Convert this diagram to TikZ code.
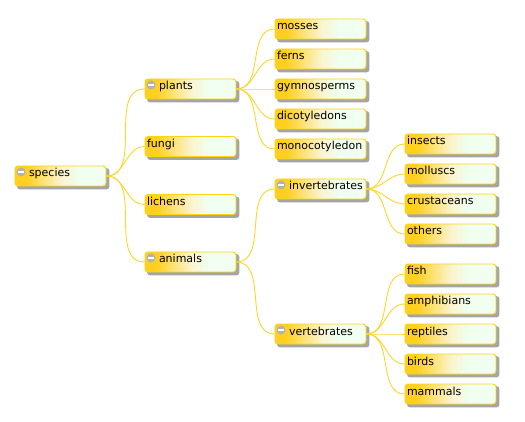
\documentclass[tikz,border=0pt]{standalone}
\usepackage{fontspec}
\setmainfont{DejaVu Sans}
\usetikzlibrary{backgrounds}
\definecolor{boxgold}{RGB}{255,208,30}
\definecolor{boxcream}{RGB}{250,244,205}
\definecolor{boxdew}{RGB}{240,255,240}
\definecolor{edgegold}{RGB}{255,214,40}
\definecolor{bordergold}{RGB}{255,212,20}
\definecolor{shadowgray}{RGB}{165,165,165}
\definecolor{icongray}{RGB}{178,178,178}
\pgfdeclarehorizontalshading{boxshade}{100bp}{color(0bp)=(boxgold); color(25bp)=(boxgold); color(31bp)=(boxgold); color(50bp)=(boxcream); color(60bp)=(boxdew); color(75bp)=(boxdew); color(100bp)=(boxdew)}
\tikzset{
  mapbox/.style={draw=bordergold, line width=0.9pt, rounded corners=3pt,
    shading=boxshade, minimum width=91pt, minimum height=20pt,
    text width=87pt, align=left, inner xsep=2pt, inner ysep=0pt,
    text height=7pt, text depth=5pt, font=\fontsize{11}{13}\selectfont},
  boxshadow/.style={fill=shadowgray, rounded corners=3pt},
  link/.style={draw=edgegold, line width=0.9pt, out=0, in=180},
}
\newcommand{\minusicon}[1]{%
  \fill[icongray] ([xshift=6.5pt,yshift=4pt]#1.west) circle (4.5pt);
  \draw[white, line width=1.4pt] ([xshift=3.8pt,yshift=4pt]#1.west) -- ([xshift=9.2pt,yshift=4pt]#1.west);}
\begin{document}
\begin{tikzpicture}[x=1pt,y=-1pt]
\useasboundingbox (0,0) rectangle (525,422);
% level 0
\node[mapbox] (species) at (60.5,176) {\hspace*{12pt}species};
% level 1
\node[mapbox] (plants) at (190.5,89) {\hspace*{12pt}plants};
\node[mapbox] (fungi) at (190.5,146.5) {fungi};
\node[mapbox] (lichens) at (190.5,204.5) {lichens};
\node[mapbox] (animals) at (190.5,262) {\hspace*{12pt}animals};
% level 2
\node[mapbox] (mosses) at (320.5,29) {mosses};
\node[mapbox] (ferns) at (320.5,59) {ferns};
\node[mapbox] (gymno) at (320.5,89) {gymnosperms};
\node[mapbox] (dicot) at (320.5,119) {dicotyledons};
\node[mapbox] (monocot) at (320.5,149) {monocotyledon};
\node[mapbox] (invert) at (320.5,189) {\hspace*{12pt}invertebrates};
\node[mapbox] (vert) at (320.5,334) {\hspace*{12pt}vertebrates};
% level 3
\node[mapbox] (insects) at (450.5,144) {insects};
\node[mapbox] (molluscs) at (450.5,174) {molluscs};
\node[mapbox] (crust) at (450.5,204) {crustaceans};
\node[mapbox] (others) at (450.5,234) {others};
\node[mapbox] (fish) at (450.5,274) {fish};
\node[mapbox] (amph) at (450.5,304) {amphibians};
\node[mapbox] (rept) at (450.5,334) {reptiles};
\node[mapbox] (birds) at (450.5,364) {birds};
\node[mapbox] (mammals) at (450.5,394) {mammals};
% shadows
\begin{pgfonlayer}{background}
\foreach \n in {species,plants,fungi,lichens,animals,mosses,ferns,gymno,dicot,monocot,invert,vert,insects,molluscs,crust,others,fish,amph,rept,birds,mammals}
  \fill[boxshadow] ([shift={(2.5,2.5)}]\n.north west) rectangle ([shift={(3,3)}]\n.south east);
\end{pgfonlayer}
% icons
\minusicon{species}
\minusicon{plants}
\minusicon{animals}
\minusicon{invert}
\minusicon{vert}
% connectors
\foreach \c in {plants,fungi,lichens,animals} \draw[link] (species.east) to (\c.west);
\foreach \c in {mosses,ferns,gymno,dicot,monocot} \draw[link] (plants.east) to (\c.west);
\foreach \c in {invert,vert} \draw[link] (animals.east) to (\c.west);
\foreach \c in {insects,molluscs,crust,others} \draw[link] (invert.east) to (\c.west);
\foreach \c in {fish,amph,rept,birds,mammals} \draw[link] (vert.east) to (\c.west);
\end{tikzpicture}
\end{document}
